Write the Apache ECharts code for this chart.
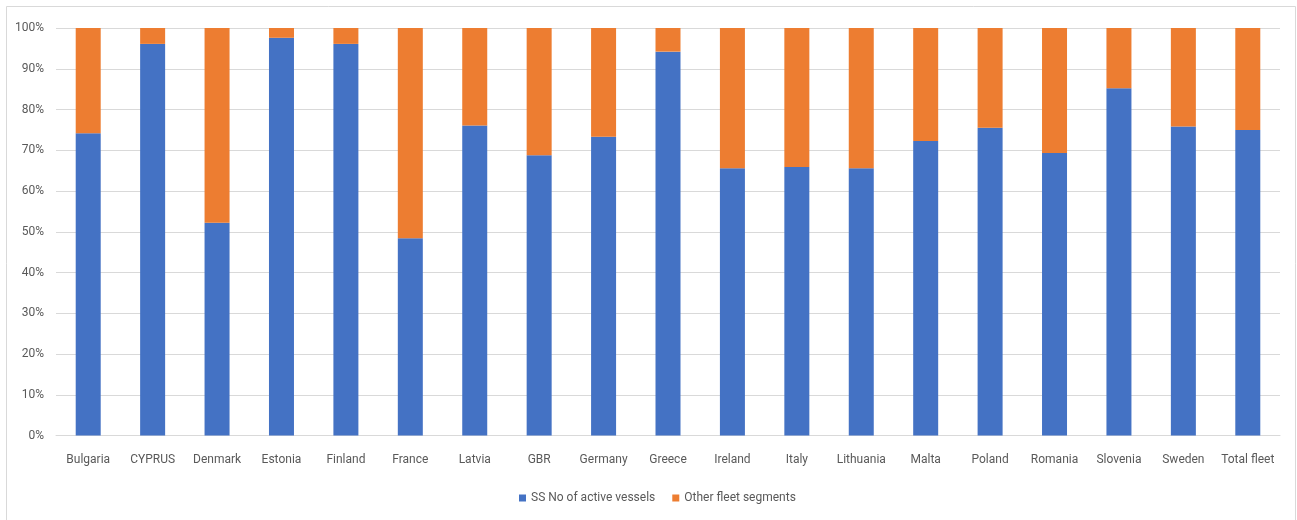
<!DOCTYPE html>
<html>
<head>
<meta charset="utf-8">
<script src="https://cdn.jsdelivr.net/npm/echarts@6/dist/echarts.min.js"></script>
<style>
  html, body { margin: 0; padding: 0; background: #fff; }
  #chart { width: 1297px; height: 520px; }
</style>
</head>
<body>
<div id="chart"></div>
<script>
// Fleet share by country: small-scale (SS) active vessels vs. other fleet segments
const countries = ['Bulgaria', 'CYPRUS', 'Denmark', 'Estonia', 'Finland', 'France', 'Latvia', 'GBR', 'Germany', 'Greece',
  'Ireland', 'Italy', 'Lithuania', 'Malta', 'Poland', 'Romania', 'Slovenia', 'Sweden', 'Total fleet'];
const ssActive = [74.2, 96.1, 52.2, 97.6, 96.1, 48.4, 76.1, 68.8, 73.3, 94.2,
  65.6, 65.9, 65.6, 72.3, 75.5, 69.3, 85.2, 75.8, 75.0];
const otherSegments = ssActive.map(v => +(100 - v).toFixed(1));
const yTicks = [0, 10, 20, 30, 40, 50, 60, 70, 80, 90, 100];

const font = "Roboto, 'DejaVu Sans Condensed', sans-serif";
const chart = echarts.init(document.getElementById('chart'), null, { renderer: 'canvas' });

chart.setOption({
  backgroundColor: '#ffffff',
  animation: false,
  textStyle: { fontFamily: font },
  graphic: [{
    type: 'rect',
    shape: { x: 6.5, y: 6.5, width: 1289, height: 520 },
    style: { fill: 'none', stroke: '#d9d9d9', lineWidth: 1 },
    silent: true
  }],
  grid: { left: 56, right: 17, top: 28, bottom: 84.5, containLabel: false },
  legend: {
    bottom: 11,
    left: 514,
    itemWidth: 7,
    itemHeight: 7,
    itemGap: 17,
    icon: 'rect',
    textStyle: { color: '#595959', fontSize: 12, fontFamily: font },
    data: ['SS No of active vessels', 'Other fleet segments']
  },
  xAxis: {
    type: 'category',
    data: countries,
    axisLine: { lineStyle: { color: '#d9d9d9' } },
    axisTick: { show: false },
    axisLabel: { color: '#595959', fontSize: 12, margin: 18, fontFamily: font, interval: 0 }
  },
  yAxis: {
    type: 'value',
    min: yTicks[0],
    max: yTicks[yTicks.length - 1],
    interval: 10,
    axisLine: { show: false },
    axisTick: { show: false },
    splitLine: { lineStyle: { color: '#d9d9d9' } },
    axisLabel: { color: '#595959', fontSize: 12, margin: 12, fontFamily: font, formatter: v => v + '%' }
  },
  series: [
    {
      name: 'SS No of active vessels',
      type: 'bar',
      stack: 'share',
      barWidth: 25,
      itemStyle: { color: '#4472c4' },
      data: ssActive
    },
    {
      name: 'Other fleet segments',
      type: 'bar',
      stack: 'share',
      barWidth: 25,
      itemStyle: { color: '#ed7d31' },
      data: otherSegments
    }
  ]
});
</script>
</body>
</html>
